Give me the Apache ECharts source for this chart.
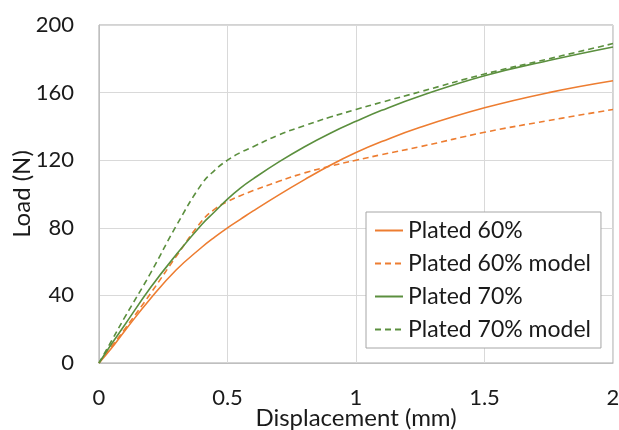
<!DOCTYPE html>
<html>
<head>
<meta charset="utf-8">
<script src="https://cdn.jsdelivr.net/npm/echarts@6/dist/echarts.min.js"></script>
<style>
  html, body { margin: 0; padding: 0; background: #fff; }
  #main { width: 619px; height: 430px; }
</style>
</head>
<body>
<div id="main"></div>
<script>
// displacement (mm) shared by all four curves
var displacement = [0, 0.05, 0.1, 0.2, 0.3, 0.4, 0.45, 0.5, 0.55, 0.6, 0.7, 0.8, 0.9, 1.0, 1.1, 1.25, 1.5, 1.75, 2.0];

// load (N)
var plated60 =      [0, 9, 19, 38, 55, 68.5, 74.5, 80, 85, 90, 99.5, 108.5, 117, 124.5, 131, 139.5, 151, 160, 167];
var plated60Model = [0, 10, 20, 41, 63, 84, 91, 95.5, 99, 102, 107.5, 112.5, 116.5, 120, 123.3, 128, 136.5, 143.5, 150];
var plated70 =      [0, 11.5, 22.5, 44.5, 64, 82, 89.5, 97, 103.5, 109, 119, 128, 136, 143, 149.5, 158, 170, 179, 187];
var plated70Model = [0, 13.5, 27, 53, 81, 106, 114, 120, 124.5, 128, 135, 140.5, 145.5, 150, 154.3, 160.5, 171, 180, 189];

var xTicks = [0, 0.5, 1, 1.5, 2];
var yTicks = [0, 40, 80, 120, 160, 200];

var orange = '#ED7D31';
var green = '#5B8F3E';

function pairs(ys) {
    return displacement.map(function (x, i) { return [x, ys[i]]; });
}

var chart = echarts.init(document.getElementById('main'), null, { renderer: 'canvas' });

var font = 'Lato, "Open Sans", sans-serif';

function lineSeries(name, ys, color, dashed) {
    return {
        name: name,
        type: 'line',
        smooth: 0.45,
        symbol: 'none',
        data: pairs(ys),
        lineStyle: {
            color: color,
            width: 1.6,
            type: dashed ? [6, 4] : 'solid'
        },
        itemStyle: { color: color }
    };
}

var option = {
    animation: false,
    backgroundColor: '#fff',
    textStyle: { fontFamily: font },
    grid: {
        left: 99,
        top: 25,
        right: 6,
        bottom: 67,
        outerBoundsMode: 'none',
        containLabel: false,
        show: true,
        borderColor: '#a6a6a6',
        borderWidth: 1
    },
    legend: {
        orient: 'vertical',
        left: 366,
        top: 212,
        itemWidth: 28,
        itemHeight: 14,
        itemGap: 10,
        padding: [7, 10, 7, 8],
        backgroundColor: '#fff',
        borderColor: '#a6a6a6',
        borderWidth: 1,
        itemStyle: { opacity: 0 },
        textStyle: { fontSize: 23, color: '#1a1a1a', fontFamily: font },
        data: ['Plated 60%', 'Plated 60% model', 'Plated 70%', 'Plated 70% model']
    },
    xAxis: {
        type: 'value',
        min: xTicks[0],
        max: xTicks[xTicks.length - 1],
        interval: 0.5,
        name: 'Displacement (mm)',
        nameLocation: 'middle',
        nameGap: 43,
        nameMoveOverlap: false,
        nameTextStyle: { fontSize: 24, color: '#1a1a1a', fontFamily: font },
        axisLine: { show: true, lineStyle: { color: '#bfbfbf' } },
        axisTick: { show: false },
        axisLabel: { fontSize: 22, color: '#1a1a1a', margin: 24, fontFamily: font },
        splitLine: { show: true, lineStyle: { color: '#d9d9d9' } }
    },
    yAxis: {
        type: 'value',
        min: yTicks[0],
        max: yTicks[yTicks.length - 1],
        interval: 40,
        name: 'Load (N)',
        nameLocation: 'middle',
        nameGap: 65,
        nameMoveOverlap: false,
        nameTextStyle: { fontSize: 24, color: '#1a1a1a', fontFamily: font },
        axisLine: { show: true, lineStyle: { color: '#bfbfbf' } },
        axisTick: { show: false },
        axisLabel: { fontSize: 22, color: '#1a1a1a', margin: 25, fontFamily: font },
        splitLine: { show: true, lineStyle: { color: '#d9d9d9' } }
    },
    series: [
        lineSeries('Plated 60%', plated60, orange, false),
        lineSeries('Plated 60% model', plated60Model, orange, true),
        lineSeries('Plated 70%', plated70, green, false),
        lineSeries('Plated 70% model', plated70Model, green, true)
    ]
};

chart.setOption(option);
</script>
</body>
</html>
